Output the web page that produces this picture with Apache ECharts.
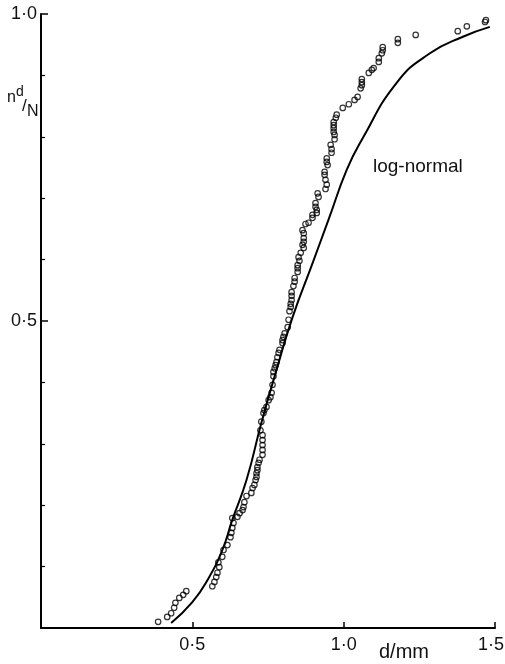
<!DOCTYPE html>
<html lang="en">

<head>
    <meta charset="utf-8">
    <title>nd/N vs d</title>
    <script src="https://cdn.jsdelivr.net/npm/echarts@6/dist/echarts.min.js"></script>
    <style>
        html, body { margin: 0; padding: 0; background: #fff; }
        #container { width: 505px; height: 664px; }
    </style>
</head>

<body>
<div id="container"></div>
<script>
    // measured points (d in mm, cumulative fraction nd/N)
    const sampleD = [
        0.387, 0.417, 0.430, 0.440, 0.444, 0.457, 0.470, 0.480, 0.566, 0.573,
        0.579, 0.583, 0.589, 0.586, 0.599, 0.603, 0.616, 0.626, 0.629, 0.632,
        0.636, 0.632, 0.649, 0.656, 0.666, 0.669, 0.672, 0.679, 0.695, 0.699,
        0.705, 0.709, 0.712, 0.712, 0.715, 0.715, 0.719, 0.722, 0.732, 0.732,
        0.732, 0.732, 0.732, 0.725, 0.728, 0.735, 0.738, 0.745, 0.752, 0.758,
        0.762, 0.765, 0.768, 0.768, 0.772, 0.775, 0.778, 0.781, 0.785, 0.788,
        0.798, 0.798, 0.801, 0.805, 0.815, 0.818, 0.821, 0.825, 0.825, 0.828,
        0.828, 0.828, 0.834, 0.838, 0.838, 0.848, 0.848, 0.848, 0.854, 0.851,
        0.858, 0.868, 0.864, 0.868, 0.868, 0.868, 0.864, 0.874, 0.884, 0.897,
        0.897, 0.911, 0.911, 0.907, 0.907, 0.917, 0.914, 0.940, 0.944, 0.940,
        0.937, 0.937, 0.947, 0.944, 0.944, 0.960, 0.960, 0.957, 0.970, 0.970,
        0.967, 0.967, 0.967, 0.967, 0.974, 0.977, 0.997, 1.017, 1.036, 1.046,
        1.056, 1.060, 1.060, 1.060, 1.083, 1.093, 1.099, 1.116, 1.116, 1.126,
        1.129, 1.129, 1.179, 1.179, 1.238, 1.377, 1.407, 1.467, 1.470
    ];
    const sampleFrac = [
        0.010, 0.018, 0.024, 0.033, 0.041, 0.049, 0.054, 0.060, 0.068, 0.075,
        0.083, 0.090, 0.099, 0.107, 0.116, 0.127, 0.135, 0.148, 0.155, 0.163,
        0.171, 0.179, 0.181, 0.187, 0.192, 0.197, 0.205, 0.215, 0.220, 0.228,
        0.233, 0.241, 0.246, 0.252, 0.257, 0.262, 0.269, 0.274, 0.282, 0.290,
        0.298, 0.306, 0.314, 0.322, 0.336, 0.350, 0.355, 0.360, 0.371, 0.376,
        0.383, 0.396, 0.410, 0.417, 0.423, 0.428, 0.433, 0.441, 0.448, 0.453,
        0.464, 0.469, 0.474, 0.480, 0.490, 0.502, 0.516, 0.523, 0.528, 0.534,
        0.541, 0.547, 0.557, 0.564, 0.570, 0.580, 0.586, 0.591, 0.598, 0.604,
        0.611, 0.619, 0.624, 0.629, 0.635, 0.643, 0.648, 0.658, 0.660, 0.668,
        0.673, 0.676, 0.681, 0.686, 0.692, 0.702, 0.708, 0.715, 0.722, 0.730,
        0.738, 0.743, 0.754, 0.759, 0.765, 0.774, 0.780, 0.787, 0.796, 0.803,
        0.808, 0.814, 0.819, 0.824, 0.831, 0.836, 0.847, 0.853, 0.860, 0.865,
        0.879, 0.884, 0.889, 0.894, 0.904, 0.909, 0.912, 0.922, 0.928, 0.936,
        0.941, 0.946, 0.953, 0.959, 0.966, 0.972, 0.980, 0.987, 0.990
    ];

    // log-normal fit
    const fitD = [
        0.430, 0.500, 0.550, 0.599, 0.632, 0.679, 0.728, 0.778, 0.831, 0.897,
        0.950, 1.010, 1.060, 1.175, 1.285, 1.394, 1.483
    ];
    const fitFrac = [
        0.008, 0.042, 0.078, 0.127, 0.176, 0.241, 0.334, 0.420, 0.506, 0.594,
        0.665, 0.746, 0.795, 0.888, 0.936, 0.963, 0.979
    ];

    const xTickValues = [0.5, 1.0, 1.5];
    const xTickLabels = ["0·5", "1·0", "1·5"];
    const yTickValues = [0.5, 1.0];
    const yTickLabels = ["0·5", "1·0"];

    const labelFont = "'Liberation Sans', sans-serif";

    function tickLabel(values, labels) {
        return v => {
            const i = values.findIndex(t => Math.abs(t - v) < 1e-6);
            if (i < 0) return "";
            // last x label sits at the page edge, nudge it in a little
            return i === values.length - 1 && values === xTickValues ? "{edge|" + labels[i] + "}" : labels[i];
        };
    }

    const option = {
        animation: false,
        backgroundColor: "#fff",
        grid: {
            left: 41,
            right: 10,
            top: 14,
            bottom: 36,
            containLabel: false,
            outerBoundsMode: "none"
        },
        xAxis: {
            type: "value",
            min: 0,
            max: 1.5,
            interval: 0.5,
            splitLine: { show: false },
            axisLine: { lineStyle: { color: "#000", width: 2 } },
            axisTick: { inside: true, length: 6, lineStyle: { color: "#000", width: 1.5 } },
            axisLabel: {
                formatter: tickLabel(xTickValues, xTickLabels),
                color: "#111",
                fontFamily: labelFont,
                fontSize: 18,
                margin: 8,
                rich: {
                    edge: { fontFamily: labelFont, fontSize: 18, color: "#111", padding: [0, 8, 0, 0] }
                }
            }
        },
        yAxis: {
            type: "value",
            min: 0,
            max: 1,
            interval: 0.5,
            splitLine: { show: false },
            axisLine: { lineStyle: { color: "#000", width: 2 } },
            axisTick: { inside: true, length: 7, lineStyle: { color: "#000", width: 1.5 } },
            minorTick: { show: true, splitNumber: 5, length: 4, lineStyle: { color: "#000", width: 1.2 } },
            axisLabel: {
                formatter: tickLabel(yTickValues, yTickLabels),
                color: "#111",
                fontFamily: labelFont,
                fontSize: 18,
                margin: 4
            }
        },
        graphic: [
            { type: "text", left: 379, top: 642, style: { text: "d/mm", font: "20px " + labelFont, fill: "#111" } },
            { type: "text", left: 373, top: 157, style: { text: "log-normal", font: "19px " + labelFont, fill: "#111" } },
            { type: "text", left: 7, top: 90, style: { text: "n", font: "16px " + labelFont, fill: "#111" } },
            { type: "text", left: 16, top: 85, style: { text: "d", font: "14px " + labelFont, fill: "#111" } },
            { type: "text", left: 22, top: 98, style: { text: "/", font: "17px " + labelFont, fill: "#111" } },
            { type: "text", left: 27, top: 104, style: { text: "N", font: "16px " + labelFont, fill: "#111" } }
        ],
        series: [
            {
                name: "log-normal",
                type: "line",
                data: fitD.map((d, i) => [d, fitFrac[i]]),
                smooth: 0.5,
                showSymbol: false,
                lineStyle: { color: "#000", width: 2 },
                z: 2
            },
            {
                name: "measured",
                type: "scatter",
                data: sampleD.map((d, i) => [d, sampleFrac[i]]),
                symbol: "circle",
                symbolSize: 5.5,
                itemStyle: { color: "rgba(0,0,0,0)", borderColor: "#000", borderWidth: 1.2 },
                z: 3
            }
        ]
    };

    const chart = echarts.init(document.getElementById("container"));
    chart.setOption(option);
</script>
</body>

</html>
